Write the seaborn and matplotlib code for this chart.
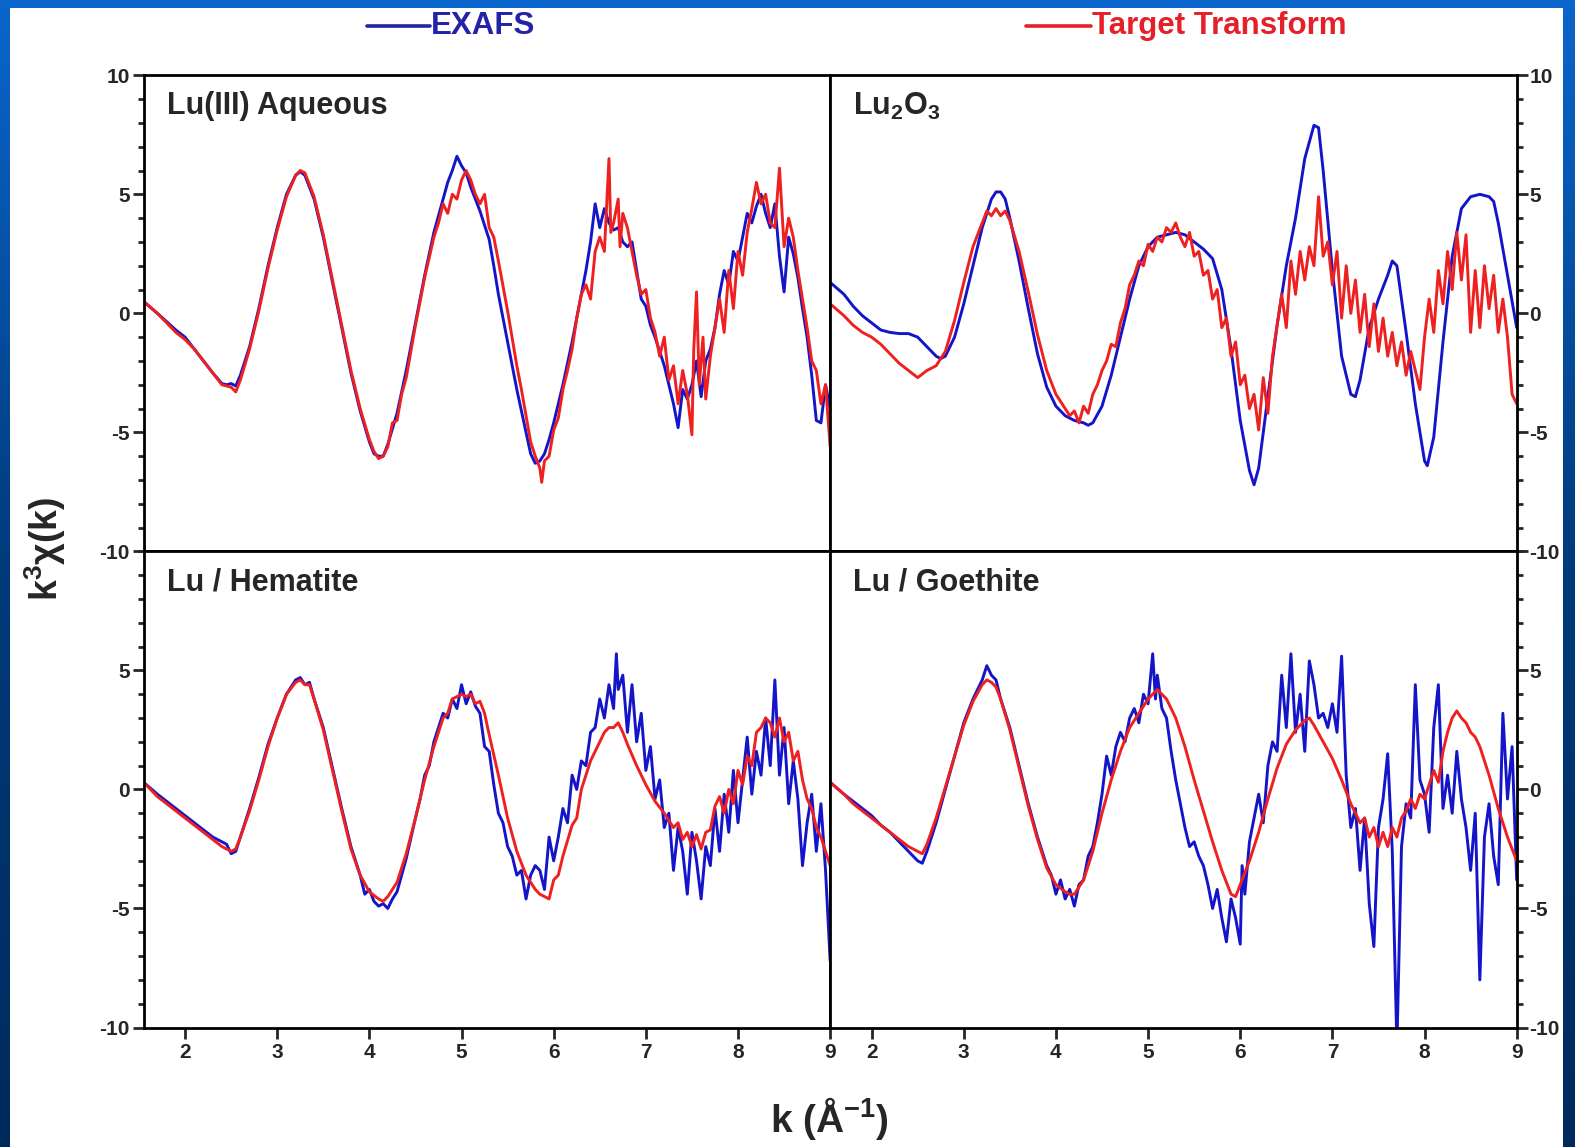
import numpy as np
import pandas as pd
import matplotlib
matplotlib.use("Agg")
import matplotlib.pyplot as plt
import seaborn as sns
from matplotlib.lines import Line2D
from matplotlib.patches import Rectangle
from matplotlib.ticker import MultipleLocator, FixedLocator
from matplotlib.colors import LinearSegmentedColormap

# ---------------- data: (k, k^3 chi(k)) pairs ----------------
PANEL_TITLES = ["Lu(III) Aqueous", "Lu$_2$O$_3$", "Lu / Hematite", "Lu / Goethite"]
X_TICKS = [2, 3, 4, 5, 6, 7, 8, 9]
Y_TICKS_TOP = [-10, -5, 0, 5, 10]
Y_TICKS_BOTTOM = [-10, -5, 0, 5]
LEGEND_LABELS = ["EXAFS", "Target Transform"]

AQ_EXAFS = [(1.55, 0.5), (1.7, 0.0), (1.9, -0.7), (2.0, -1.0), (2.1, -1.5), (2.2, -2.0), (2.3, -2.5),
            (2.4, -2.95), (2.45, -3.0), (2.5, -2.95), (2.55, -3.05), (2.6, -2.6), (2.7, -1.4), (2.8, 0.2),
            (2.9, 2.0), (3.0, 3.6), (3.1, 5.0), (3.2, 5.8), (3.25, 5.95), (3.3, 5.8), (3.4, 4.8), (3.5, 3.2),
            (3.6, 1.3), (3.7, -0.6), (3.8, -2.5), (3.9, -4.1), (4.0, -5.4), (4.05, -5.9), (4.1, -6.0),
            (4.15, -6.0), (4.2, -5.5), (4.3, -4.2), (4.4, -2.4), (4.5, -0.4), (4.6, 1.6), (4.7, 3.4),
            (4.8, 4.8), (4.85, 5.5), (4.9, 6.0), (4.95, 6.6), (5.0, 6.2), (5.05, 5.9), (5.1, 5.3), (5.2, 4.3),
            (5.3, 3.1), (5.35, 2.0), (5.4, 0.8), (5.5, -1.2), (5.6, -3.2), (5.7, -5.0), (5.75, -5.9),
            (5.8, -6.3), (5.85, -6.2), (5.9, -5.9), (5.95, -5.3), (6.0, -4.6), (6.1, -3.0), (6.2, -1.2),
            (6.3, 0.8), (6.35, 1.8), (6.4, 3.0), (6.45, 4.6), (6.5, 3.6), (6.55, 4.4), (6.6, 3.8), (6.65, 3.5),
            (6.7, 3.6), (6.75, 3.0), (6.8, 2.8), (6.85, 3.0), (6.9, 1.8), (6.95, 0.6), (7.0, 0.3), (7.05, -0.5),
            (7.1, -1.0), (7.15, -1.6), (7.2, -2.2), (7.25, -3.0), (7.3, -3.8), (7.35, -4.8), (7.4, -3.2),
            (7.45, -3.6), (7.5, -3.0), (7.55, -2.0), (7.6, -3.5), (7.65, -2.0), (7.7, -1.5), (7.75, -0.6),
            (7.8, 0.8), (7.85, 1.8), (7.9, 1.2), (7.95, 2.6), (8.0, 2.2), (8.05, 3.2), (8.1, 4.2), (8.15, 3.8),
            (8.2, 4.5), (8.25, 5.0), (8.3, 4.2), (8.35, 3.6), (8.4, 4.6), (8.45, 2.4), (8.5, 0.9), (8.55, 3.2),
            (8.6, 2.5), (8.65, 1.5), (8.7, 0.2), (8.75, -1.0), (8.8, -2.6), (8.85, -4.5), (8.9, -4.6),
            (8.95, -3.0), (9.0, -4.0)]

AQ_TT = [(1.55, 0.5), (1.7, 0.0), (1.9, -0.8), (2.0, -1.1), (2.1, -1.5), (2.2, -2.0), (2.3, -2.5), (2.4, -3.0),
         (2.5, -3.1), (2.55, -3.3), (2.6, -2.8), (2.7, -1.5), (2.8, 0.1), (2.9, 1.9), (3.0, 3.5), (3.1, 4.9),
         (3.2, 5.8), (3.25, 6.0), (3.3, 5.9), (3.35, 5.4), (3.4, 4.9), (3.5, 3.3), (3.6, 1.4), (3.7, -0.5),
         (3.8, -2.4), (3.9, -4.0), (4.0, -5.3), (4.05, -5.8), (4.1, -6.1), (4.15, -6.0), (4.2, -5.6),
         (4.25, -4.6), (4.3, -4.5), (4.35, -3.4), (4.4, -2.7), (4.5, -0.5), (4.6, 1.5), (4.7, 3.2), (4.75, 3.8),
         (4.8, 4.6), (4.85, 4.2), (4.9, 5.0), (4.95, 4.8), (5.0, 5.6), (5.05, 6.0), (5.1, 5.6), (5.15, 5.0),
         (5.2, 4.6), (5.25, 5.0), (5.3, 3.6), (5.35, 3.2), (5.4, 2.2), (5.5, 0.1), (5.6, -2.2), (5.65, -3.2),
         (5.7, -4.3), (5.75, -5.4), (5.8, -6.0), (5.85, -6.5), (5.87, -7.1), (5.9, -6.2), (5.95, -6.0),
         (6.0, -4.9), (6.05, -4.4), (6.1, -3.2), (6.15, -2.4), (6.2, -1.5), (6.25, -0.2), (6.3, 0.8),
         (6.35, 1.2), (6.4, 0.6), (6.45, 2.6), (6.5, 3.2), (6.55, 2.6), (6.6, 6.5), (6.62, 3.4), (6.65, 3.8),
         (6.7, 4.8), (6.72, 2.8), (6.75, 4.2), (6.8, 3.6), (6.85, 2.6), (6.9, 1.6), (6.95, 0.8), (7.0, 1.0),
         (7.05, -0.2), (7.1, -0.8), (7.15, -1.8), (7.2, -1.0), (7.25, -2.8), (7.3, -2.2), (7.35, -3.8),
         (7.4, -2.4), (7.45, -3.4), (7.5, -5.1), (7.52, -1.5), (7.55, 0.9), (7.58, -3.0), (7.62, -1.0),
         (7.65, -3.6), (7.7, -1.8), (7.75, -0.6), (7.8, 0.6), (7.85, -0.8), (7.9, 1.8), (7.95, 0.2), (8.0, 2.6),
         (8.05, 1.6), (8.1, 3.4), (8.15, 4.4), (8.2, 5.5), (8.25, 4.6), (8.3, 5.0), (8.35, 3.8), (8.4, 3.6),
         (8.45, 6.1), (8.5, 2.8), (8.55, 4.0), (8.6, 3.2), (8.65, 1.8), (8.7, 0.6), (8.75, -0.6), (8.8, -2.0),
         (8.85, -2.4), (8.9, -3.8), (8.95, -3.0), (9.0, -5.6)]

LU2O3_EXAFS = [(1.55, 1.3), (1.7, 0.8), (1.8, 0.3), (1.9, -0.1), (2.0, -0.4), (2.1, -0.7), (2.2, -0.8),
               (2.3, -0.85), (2.4, -0.85), (2.5, -1.0), (2.6, -1.4), (2.7, -1.8), (2.75, -1.9), (2.8, -1.8),
               (2.9, -1.0), (3.0, 0.4), (3.1, 2.0), (3.2, 3.6), (3.3, 4.8), (3.35, 5.1), (3.4, 5.1), (3.45, 4.8),
               (3.5, 4.0), (3.6, 2.2), (3.7, 0.2), (3.8, -1.7), (3.9, -3.1), (4.0, -3.9), (4.1, -4.3),
               (4.2, -4.5), (4.3, -4.6), (4.35, -4.7), (4.4, -4.6), (4.5, -3.9), (4.6, -2.6), (4.7, -1.0),
               (4.8, 0.6), (4.9, 2.0), (5.0, 2.8), (5.1, 3.2), (5.2, 3.3), (5.3, 3.4), (5.4, 3.3), (5.5, 3.0),
               (5.6, 2.7), (5.7, 2.3), (5.8, 1.0), (5.9, -1.5), (6.0, -4.5), (6.1, -6.6), (6.15, -7.2),
               (6.2, -6.5), (6.3, -3.5), (6.4, -0.5), (6.5, 2.0), (6.6, 4.0), (6.7, 6.5), (6.8, 7.9),
               (6.85, 7.8), (6.9, 6.0), (7.0, 1.8), (7.1, -1.8), (7.2, -3.4), (7.25, -3.5), (7.3, -2.8),
               (7.4, -0.6), (7.5, 0.6), (7.6, 1.6), (7.65, 2.2), (7.7, 2.0), (7.8, -0.8), (7.9, -3.8),
               (8.0, -6.2), (8.03, -6.4), (8.1, -5.2), (8.2, -1.2), (8.3, 2.4), (8.4, 4.4), (8.5, 4.9),
               (8.6, 5.0), (8.7, 4.9), (8.75, 4.7), (8.8, 3.8), (8.9, 1.6), (9.0, -0.6)]

LU2O3_TT = [(1.55, 0.4), (1.7, -0.1), (1.8, -0.5), (1.9, -0.8), (2.0, -1.0), (2.1, -1.3), (2.2, -1.7),
            (2.3, -2.1), (2.4, -2.4), (2.5, -2.7), (2.6, -2.4), (2.7, -2.2), (2.8, -1.6), (2.9, -0.3),
            (3.0, 1.3), (3.1, 2.8), (3.2, 3.8), (3.25, 4.3), (3.3, 4.1), (3.35, 4.4), (3.4, 4.1), (3.45, 4.3),
            (3.5, 3.9), (3.6, 2.6), (3.7, 0.9), (3.8, -0.9), (3.9, -2.4), (4.0, -3.4), (4.1, -4.0),
            (4.15, -4.3), (4.2, -4.1), (4.25, -4.6), (4.3, -3.9), (4.35, -4.2), (4.4, -3.4), (4.45, -3.0),
            (4.5, -2.4), (4.55, -2.0), (4.6, -1.3), (4.65, -1.4), (4.7, -0.4), (4.75, 0.2), (4.8, 1.2),
            (4.85, 1.6), (4.9, 2.2), (4.95, 2.0), (5.0, 2.9), (5.05, 2.6), (5.1, 3.2), (5.15, 3.0), (5.2, 3.6),
            (5.25, 3.4), (5.3, 3.8), (5.35, 3.2), (5.4, 2.8), (5.45, 3.4), (5.5, 2.4), (5.55, 2.6), (5.6, 1.6),
            (5.65, 1.8), (5.7, 0.6), (5.75, 1.0), (5.8, -0.6), (5.85, -0.2), (5.9, -1.8), (5.95, -1.2),
            (6.0, -3.0), (6.05, -2.6), (6.1, -4.0), (6.15, -3.4), (6.2, -4.9), (6.25, -2.7), (6.3, -4.2),
            (6.35, -1.8), (6.4, -0.5), (6.45, 0.8), (6.5, -0.6), (6.55, 2.2), (6.6, 0.8), (6.65, 2.6),
            (6.7, 1.4), (6.75, 2.8), (6.8, 2.0), (6.85, 4.9), (6.9, 2.4), (6.95, 3.0), (7.0, 1.2), (7.05, 2.6),
            (7.1, -0.2), (7.15, 2.0), (7.2, 0.0), (7.25, 1.4), (7.3, -0.8), (7.35, 0.8), (7.4, -1.4),
            (7.45, 0.4), (7.5, -1.6), (7.55, -0.2), (7.6, -1.8), (7.65, -0.8), (7.7, -2.2), (7.75, -1.2),
            (7.8, -2.6), (7.85, -1.6), (7.9, -2.4), (7.95, -3.2), (8.0, -1.0), (8.05, 0.6), (8.1, -0.8),
            (8.15, 1.8), (8.2, 0.4), (8.25, 2.6), (8.3, 1.0), (8.35, 3.4), (8.4, 1.4), (8.45, 3.3),
            (8.5, -0.8), (8.55, 1.8), (8.6, -0.6), (8.65, 2.0), (8.7, 0.2), (8.75, 1.6), (8.8, -0.8),
            (8.85, 0.6), (8.9, -1.0), (8.95, -3.4), (9.0, -3.8)]

HEM_EXAFS = [(1.55, 0.3), (1.7, -0.2), (1.9, -0.8), (2.0, -1.1), (2.1, -1.4), (2.2, -1.7), (2.3, -2.0),
             (2.4, -2.2), (2.45, -2.3), (2.5, -2.7), (2.55, -2.6), (2.6, -2.0), (2.7, -0.8), (2.8, 0.5),
             (2.9, 1.9), (3.0, 3.0), (3.1, 4.0), (3.2, 4.6), (3.25, 4.7), (3.3, 4.4), (3.35, 4.5), (3.4, 3.8),
             (3.5, 2.6), (3.6, 0.9), (3.7, -0.8), (3.8, -2.4), (3.9, -3.6), (3.95, -4.4), (4.0, -4.2),
             (4.05, -4.7), (4.1, -4.9), (4.15, -4.8), (4.2, -5.0), (4.25, -4.6), (4.3, -4.3), (4.4, -2.9),
             (4.5, -1.2), (4.55, -0.4), (4.6, 0.6), (4.65, 1.0), (4.7, 2.0), (4.75, 2.6), (4.8, 3.2),
             (4.85, 3.0), (4.9, 3.8), (4.95, 3.4), (5.0, 4.4), (5.05, 3.6), (5.1, 4.1), (5.15, 3.5), (5.2, 3.2),
             (5.25, 1.8), (5.3, 1.6), (5.35, 0.2), (5.4, -1.0), (5.45, -1.4), (5.5, -2.4), (5.55, -2.8),
             (5.6, -3.6), (5.65, -3.4), (5.7, -4.6), (5.75, -3.6), (5.8, -3.2), (5.85, -3.4), (5.9, -4.2),
             (5.95, -2.0), (6.0, -3.0), (6.05, -2.0), (6.1, -0.8), (6.15, -1.4), (6.2, 0.6), (6.25, 0.0),
             (6.3, 1.2), (6.35, 1.0), (6.4, 2.4), (6.45, 2.6), (6.5, 3.8), (6.55, 3.0), (6.6, 4.4), (6.65, 3.4),
             (6.68, 5.7), (6.7, 4.2), (6.75, 4.8), (6.8, 2.4), (6.85, 4.4), (6.9, 2.0), (6.95, 3.2), (7.0, 0.8),
             (7.05, 1.8), (7.1, -0.4), (7.15, 0.4), (7.2, -1.6), (7.25, -1.0), (7.3, -3.4), (7.35, -1.6),
             (7.4, -2.6), (7.45, -4.4), (7.5, -1.8), (7.55, -3.0), (7.6, -4.6), (7.65, -2.4), (7.7, -3.2),
             (7.75, -0.8), (7.8, -2.6), (7.85, -0.2), (7.9, -1.8), (7.95, 0.8), (8.0, -1.4), (8.05, 0.4),
             (8.1, 2.2), (8.15, -0.2), (8.2, 1.6), (8.25, 0.6), (8.3, 3.0), (8.35, 1.0), (8.4, 4.6),
             (8.45, 0.6), (8.5, 2.6), (8.55, -0.6), (8.6, 1.2), (8.65, -0.4), (8.7, -3.2), (8.75, -1.4),
             (8.8, -0.2), (8.85, -2.6), (8.9, -0.6), (8.95, -3.4), (9.0, -7.2)]

HEM_TT = [(1.55, 0.3), (1.7, -0.3), (1.9, -0.9), (2.0, -1.2), (2.1, -1.5), (2.2, -1.8), (2.3, -2.1), (2.4, -2.4),
          (2.5, -2.6), (2.55, -2.5), (2.6, -2.0), (2.7, -0.9), (2.8, 0.4), (2.9, 1.8), (3.0, 3.0), (3.1, 4.0),
          (3.2, 4.5), (3.25, 4.6), (3.3, 4.4), (3.35, 4.4), (3.4, 3.8), (3.5, 2.5), (3.6, 0.8), (3.7, -0.9),
          (3.8, -2.5), (3.9, -3.6), (4.0, -4.3), (4.1, -4.6), (4.15, -4.7), (4.2, -4.5), (4.3, -3.9),
          (4.4, -2.7), (4.5, -1.2), (4.6, 0.4), (4.7, 1.8), (4.8, 3.0), (4.85, 3.2), (4.9, 3.8), (5.0, 4.0),
          (5.05, 3.9), (5.1, 4.0), (5.15, 3.6), (5.2, 3.7), (5.25, 3.2), (5.3, 2.3), (5.4, 0.6), (5.5, -1.2),
          (5.6, -2.6), (5.7, -3.6), (5.8, -4.2), (5.85, -4.4), (5.9, -4.5), (5.95, -4.6), (6.0, -3.8),
          (6.05, -3.6), (6.1, -2.8), (6.2, -1.5), (6.25, -1.2), (6.3, 0.0), (6.4, 1.2), (6.5, 2.0),
          (6.55, 2.4), (6.6, 2.6), (6.65, 2.6), (6.7, 2.8), (6.75, 2.4), (6.8, 1.9), (6.9, 1.0), (7.0, 0.2),
          (7.1, -0.5), (7.2, -1.0), (7.3, -1.6), (7.35, -1.4), (7.4, -2.1), (7.45, -1.8), (7.5, -2.4),
          (7.55, -1.9), (7.6, -2.5), (7.65, -1.8), (7.7, -1.7), (7.75, -0.7), (7.8, -0.3), (7.85, -1.0),
          (7.9, 0.0), (7.95, -0.6), (8.0, 0.8), (8.05, 0.2), (8.1, 1.4), (8.15, 1.0), (8.2, 2.4), (8.25, 2.6),
          (8.3, 3.0), (8.35, 2.8), (8.4, 2.2), (8.45, 3.0), (8.5, 2.0), (8.55, 2.4), (8.6, 1.2), (8.65, 1.6),
          (8.7, 0.4), (8.75, -0.4), (8.8, -0.8), (8.85, -1.6), (8.9, -2.0), (8.95, -2.6), (9.0, -3.2)]

GOE_EXAFS = [(1.55, 0.3), (1.7, -0.2), (1.8, -0.5), (1.9, -0.8), (2.0, -1.1), (2.1, -1.5), (2.2, -1.8),
             (2.3, -2.2), (2.4, -2.6), (2.5, -3.0), (2.55, -3.1), (2.6, -2.6), (2.7, -1.4), (2.8, 0.0),
             (2.9, 1.4), (3.0, 2.8), (3.1, 3.8), (3.2, 4.6), (3.25, 5.2), (3.3, 4.8), (3.35, 4.6), (3.4, 3.8),
             (3.5, 2.6), (3.6, 1.0), (3.7, -0.6), (3.8, -2.0), (3.9, -3.2), (3.95, -3.6), (4.0, -4.4),
             (4.05, -3.8), (4.1, -4.6), (4.15, -4.2), (4.2, -4.9), (4.25, -4.0), (4.3, -3.8), (4.35, -2.8),
             (4.4, -2.4), (4.45, -1.4), (4.5, -0.2), (4.55, 1.4), (4.6, 0.6), (4.65, 1.8), (4.7, 2.4),
             (4.75, 2.0), (4.8, 3.0), (4.85, 3.4), (4.9, 2.8), (4.95, 4.0), (5.0, 3.6), (5.05, 5.7), (5.08, 3.8),
             (5.1, 4.8), (5.15, 3.4), (5.2, 3.0), (5.25, 1.6), (5.3, 0.4), (5.35, -0.6), (5.4, -1.6),
             (5.45, -2.4), (5.5, -2.2), (5.55, -2.8), (5.6, -3.2), (5.65, -4.0), (5.7, -5.0), (5.75, -4.2),
             (5.8, -5.4), (5.85, -6.4), (5.9, -4.6), (5.95, -5.4), (6.0, -6.5), (6.02, -3.2), (6.05, -4.4),
             (6.1, -2.2), (6.15, -1.2), (6.2, -0.2), (6.25, -1.4), (6.3, 1.0), (6.35, 2.0), (6.4, 1.6),
             (6.45, 4.8), (6.5, 2.6), (6.55, 5.7), (6.6, 2.4), (6.65, 4.0), (6.7, 1.6), (6.75, 5.4), (6.8, 4.4),
             (6.85, 3.0), (6.9, 3.2), (6.95, 2.6), (7.0, 3.6), (7.05, 2.4), (7.1, 5.6), (7.15, 0.6),
             (7.2, -1.6), (7.25, -0.8), (7.3, -3.4), (7.35, -1.2), (7.4, -4.8), (7.45, -6.6), (7.5, -1.6),
             (7.55, -0.4), (7.6, 1.5), (7.65, -2.6), (7.7, -10.8), (7.75, -2.4), (7.8, -0.6), (7.85, -1.2),
             (7.9, 4.4), (7.95, 0.4), (8.0, -0.2), (8.05, -1.8), (8.1, 2.6), (8.15, 4.4), (8.2, -0.8),
             (8.25, 0.6), (8.3, -1.0), (8.35, 1.6), (8.4, -0.4), (8.45, -1.6), (8.5, -3.4), (8.55, -1.0),
             (8.6, -8.0), (8.65, -2.0), (8.7, -0.6), (8.75, -2.8), (8.8, -4.0), (8.85, 3.2), (8.9, -0.4),
             (8.95, 1.8), (9.0, -3.8)]

GOE_TT = [(1.55, 0.3), (1.7, -0.2), (1.8, -0.6), (1.9, -0.9), (2.0, -1.2), (2.1, -1.5), (2.2, -1.8), (2.3, -2.1),
          (2.4, -2.4), (2.5, -2.6), (2.55, -2.7), (2.6, -2.3), (2.7, -1.2), (2.8, 0.1), (2.9, 1.4), (3.0, 2.7),
          (3.1, 3.7), (3.2, 4.4), (3.25, 4.6), (3.3, 4.5), (3.35, 4.3), (3.4, 3.8), (3.5, 2.5), (3.6, 0.9),
          (3.7, -0.7), (3.8, -2.1), (3.9, -3.3), (4.0, -4.0), (4.1, -4.3), (4.15, -4.4), (4.2, -4.4),
          (4.3, -3.8), (4.4, -2.6), (4.5, -1.0), (4.6, 0.4), (4.7, 1.6), (4.8, 2.6), (4.9, 3.2), (5.0, 3.8),
          (5.1, 4.2), (5.15, 4.0), (5.2, 3.8), (5.3, 3.0), (5.4, 1.8), (5.5, 0.4), (5.6, -0.9), (5.7, -2.2),
          (5.8, -3.4), (5.9, -4.4), (5.95, -4.5), (6.0, -4.0), (6.1, -3.0), (6.2, -1.8), (6.3, -0.4),
          (6.4, 0.9), (6.5, 1.9), (6.6, 2.5), (6.7, 2.9), (6.75, 3.0), (6.8, 2.7), (6.9, 2.0), (7.0, 1.3),
          (7.1, 0.4), (7.2, -0.6), (7.3, -1.4), (7.35, -1.2), (7.4, -2.0), (7.45, -1.6), (7.5, -2.4),
          (7.55, -1.8), (7.6, -2.4), (7.65, -1.6), (7.7, -2.0), (7.75, -1.2), (7.8, -0.9), (7.85, -0.4),
          (7.9, -0.8), (7.95, -0.2), (8.0, -0.4), (8.05, 0.2), (8.1, 0.8), (8.15, 0.3), (8.2, 1.6),
          (8.25, 2.4), (8.3, 3.0), (8.35, 3.3), (8.4, 3.0), (8.45, 2.8), (8.5, 2.4), (8.55, 2.2), (8.6, 1.8),
          (8.7, 0.6), (8.8, -0.8), (8.9, -2.0), (9.0, -3.0)]

# ---------------- styling ----------------
BLUE = "#1414c8"
RED = "#ee2020"
W, H = 1575, 1147

sns.set_style("ticks")
plt.rcParams['font.family'] = ['Liberation Sans', 'DejaVu Sans']
plt.rcParams['font.weight'] = 'bold'
plt.rcParams['axes.unicode_minus'] = False
plt.rcParams['mathtext.fontset'] = 'custom'
plt.rcParams['mathtext.rm'] = 'Liberation Sans:bold'
plt.rcParams['mathtext.bf'] = 'Liberation Sans:bold'
plt.rcParams['mathtext.it'] = 'Liberation Sans:bold'
plt.rcParams['mathtext.default'] = 'bf'

fig, axes = plt.subplots(2, 2, figsize=(W / 100, H / 100), dpi=100)
fig.subplots_adjust(left=143.6 / W, right=1516.7 / W, top=1 - 75.3 / H, bottom=1 - 1027.5 / H,
                    wspace=0, hspace=0)

# blue gradient frame + white canvas
bg = fig.add_axes([0, 0, 1, 1], zorder=-10)
grad = np.linspace(0, 1, 256).reshape(-1, 1)
cmap = LinearSegmentedColormap.from_list('frame', ['#0a66cc', '#003a7a', '#002a5c'])
bg.imshow(grad, aspect='auto', cmap=cmap, extent=[0, 1, 0, 1])
bg.add_patch(Rectangle((10 / W, 0), (1563 - 10) / W, 1 - 8 / H, facecolor='white',
                       edgecolor='none'))
bg.set_xlim(0, 1)
bg.set_ylim(0, 1)
bg.set_axis_off()

curves = [(AQ_EXAFS, AQ_TT), (LU2O3_EXAFS, LU2O3_TT), (HEM_EXAFS, HEM_TT), (GOE_EXAFS, GOE_TT)]

for idx, ax in enumerate(axes.flat):
    i, j = divmod(idx, 2)
    exafs, tt = curves[idx]
    df_e = pd.DataFrame(exafs, columns=['k', 'chi'])
    df_t = pd.DataFrame(tt, columns=['k', 'chi'])
    sns.lineplot(data=df_e, x='k', y='chi', ax=ax, color=BLUE, lw=2.1, sort=False, estimator=None)
    sns.lineplot(data=df_t, x='k', y='chi', ax=ax, color=RED, lw=2.1, sort=False, estimator=None)
    ax.set_xlim(1.55, 9.0)
    ax.set_ylim(-10, 10)
    ax.set_xlabel('')
    ax.set_ylabel('')
    ax.set_facecolor('white')
    for s in ax.spines.values():
        s.set_visible(True)
        s.set_linewidth(2.0)
        s.set_color('black')
    ax.xaxis.set_major_locator(FixedLocator(X_TICKS))
    ax.xaxis.set_minor_locator(FixedLocator([]))
    if i == 0:
        ax.tick_params(axis='x', bottom=False, top=False, labelbottom=False)
        ax.set_yticks(Y_TICKS_TOP)
    else:
        ax.tick_params(axis='x', bottom=True, top=False, labelbottom=True, direction='out',
                       length=8, width=2, labelsize=15, pad=3)
        ax.set_yticks(Y_TICKS_BOTTOM)
    ax.yaxis.set_minor_locator(MultipleLocator(1))
    if j == 0:
        ax.tick_params(axis='y', which='both', left=True, right=False, labelleft=True,
                       labelright=False, direction='out')
        ax.tick_params(axis='y', which='major', pad=2)
    else:
        ax.tick_params(axis='y', which='both', left=False, right=True, labelleft=False,
                       labelright=True, direction='out')
        ax.tick_params(axis='y', which='major', pad=1)
    ax.tick_params(axis='y', which='major', length=8, width=2, labelsize=15)
    ax.tick_params(axis='y', which='minor', length=4, width=2)
    ax.text(0.034, 0.935, PANEL_TITLES[idx], transform=ax.transAxes, fontsize=22,
            fontweight='bold', ha='left', va='center')

# axis labels
fig.text(45 / W, 1 - 549 / H, 'k$^{3}$χ(k)', rotation=90, fontsize=27, fontweight='bold',
         ha='center', va='center')
fig.text(829 / W, 1 - 1119 / H, 'k (Å$^{-1}$)', fontsize=28, fontweight='bold',
         ha='center', va='center')

# legend at top
ly = 1 - 26 / H
fig.add_artist(Line2D([367 / W, 430 / W], [ly, ly], color='#2323a8', lw=2.6))
fig.text(431 / W, ly, LEGEND_LABELS[0], color='#2323a8', fontsize=22.5, fontweight='bold',
         ha='left', va='center')
fig.add_artist(Line2D([1026 / W, 1091 / W], [ly, ly], color='#e42028', lw=2.6))
fig.text(1092 / W, ly, LEGEND_LABELS[1], color='#e42028', fontsize=22.5, fontweight='bold',
         ha='left', va='center')

fig.savefig('out.png', dpi=100, facecolor=fig.get_facecolor())
